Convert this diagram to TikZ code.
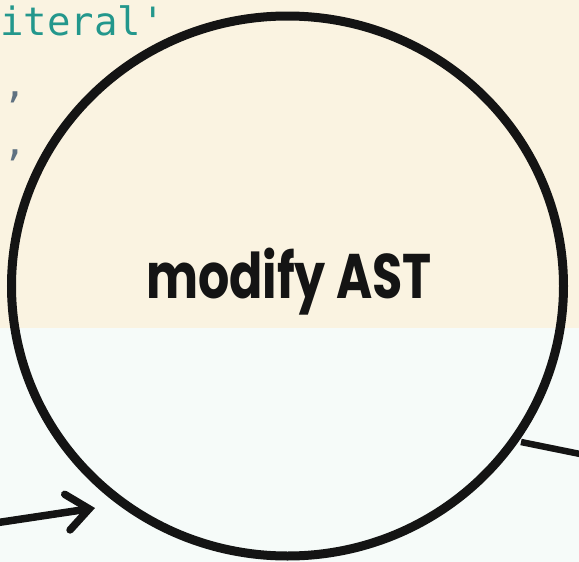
\documentclass[tikz,border=0pt]{standalone}
\usepackage{fontspec}
\setmainfont{Poppins}
\newfontfamily\codefont{DejaVu Sans Mono}
\newfontfamily\labelfont{Poppins Bold}
\usetikzlibrary{arrows.meta,shapes.geometric}
\definecolor{creambg}{HTML}{FAF3E1}
\definecolor{mintbg}{HTML}{F6FBF9}
\definecolor{codeteal}{HTML}{23978C}
\definecolor{codegray}{HTML}{5F7181}
\definecolor{ink}{HTML}{141414}
\tikzset{
  ink line/.style={draw=ink, line width=7.5pt, line cap=round, line join=round},
  chevron/.style={-{Straight Barb[length=22pt, width=36pt, line width=7.5pt, line cap=round]}},
  code text/.style={anchor=base west, inner sep=0pt, font=\codefont\fontsize{39}{39}\selectfont},
}
\begin{document}
\begin{tikzpicture}[x=1pt, y=-1pt]
  \useasboundingbox (0,0) rectangle (579,562);
  % split background
  \fill[creambg] (0,0) rectangle (579,328);
  \fill[mintbg] (0,328) rectangle (579,562);
  % code fragments behind the lens
  \node[code text, text=codeteal] (code) at (0,35) {iteral'};
  \node[code text, text=codegray] (comma1) at (3,97) {,};
  \node[code text, text=codegray] (comma2) at (3,155) {,};
  % the big lens
  \node[draw=ink, line width=9pt, ellipse, minimum width=552pt, minimum height=540pt, inner sep=0pt] (lens) at (287.5,286) {};
  % label
  \node[inner sep=0pt, xscale=0.78, font=\labelfont\fontsize{63}{63}\selectfont, text=ink] (label) at (289,282) {modify AST};
  % incoming arrow
  \coordinate (inL) at (-5,523);
  \coordinate (inR) at (95,508);
  \draw[ink line, chevron] (inL) -- (inR);
  % outgoing line
  \coordinate (outA) at (521,442);
  \coordinate (outB) at (585,455);
  \draw[draw=ink, line width=6.5pt] (outA) -- (outB);
\end{tikzpicture}
\end{document}
